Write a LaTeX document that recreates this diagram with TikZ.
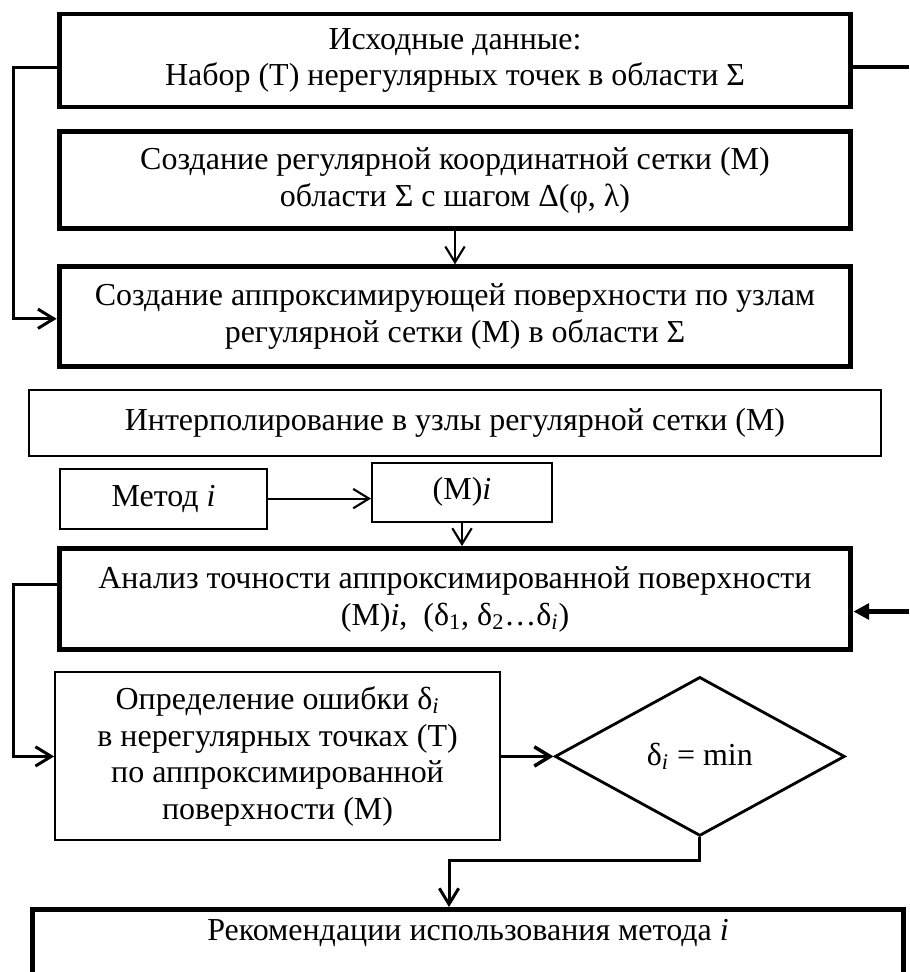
\documentclass[tikz,border=0pt]{standalone}
\usepackage{fontspec}
\setmainfont{Liberation Serif}
\usetikzlibrary{shapes.geometric, arrows.meta, positioning}

\begin{document}
\begin{tikzpicture}[
    x=0.02cm, y=-0.02cm,
    every node/.style={font=\fontsize{18.2}{21}\selectfont},
    box/.style={rectangle, draw, line width=2.8pt, minimum width=15.84cm, minimum height=1.98cm, align=center, inner sep=0pt},
    thinbox/.style={rectangle, draw, line width=1.1pt, align=center, inner sep=0pt},
    cond/.style={diamond, draw, line width=1.6pt, aspect=1.8, inner sep=0pt, minimum width=5.8cm, minimum height=3.18cm},
    arrow/.style={-{Straight Barb[length=9pt, width=11pt]}, line width=1.7pt},
    thinarrow/.style={arrow, line width=1.2pt},
    link/.style={line width=2.8pt}
]
\useasboundingbox (0,0) rectangle (909,972);
\clip (0,0) rectangle (909,972);

\coordinate (rgt) at (909,0);
\coordinate (turn) at (449,860);

\node[box, minimum height=1.86cm] (src) at (455,60.5) {Исходные данные:\\Набор (Т) нерегулярных точек в области Σ};
\node[box, minimum height=1.94cm, below=0.4cm of src] (grid) {Создание регулярной координатной сетки (М)\\области Σ с шагом Δ(φ, λ)};
\node[box, minimum height=2cm, below=0.66cm of grid] (surf) {Создание аппроксимирующей поверхности по узлам\\регулярной сетки (М) в области Σ};
\node[thinbox, minimum width=17.06cm, minimum height=1.32cm, below=0.39cm of surf] (interp) {Интерполирование в узлы регулярной сетки (М)};

\node[thinbox, minimum width=3.6cm, minimum height=1.18cm, below=0.1cm of interp, xshift=0.14cm] (mi) {(М)\textit{i}};
\node[thinbox, minimum width=4.14cm, minimum height=1.2cm, left=2.06cm of mi, yshift=-0.13cm] (method) {Метод \textit{i}};

\node[box, minimum height=2.02cm, below=0.47cm of mi, xshift=-0.14cm] (anal) {Анализ точности аппроксимированной поверхности\\(М)\textit{i},\ \ (δ\textsubscript{1}, δ\textsubscript{2}…δ\textsubscript{\textit{i}})};

\node[thinbox, minimum width=8.9cm, minimum height=3.36cm, below right=0.39cm and -0.05cm of anal.south west] (err) {Определение ошибки δ\textsubscript{\textit{i}}\\в нерегулярных точках (Т)\\по аппроксимированной\\поверхности (М)};
\node[cond, right=1.05cm of err] (dec) {δ\textsubscript{\textit{i}} = min};

\node[box, minimum width=17.44cm, inner ysep=0.2cm, text depth=2cm, anchor=north] (rec) at (468,907) {Рекомендации использования метода \textit{i}};

% feedback lines
\draw[arrow] ([yshift=-0.15cm]src.west) -- ++(-43,0) |- ([yshift=-0.04cm]surf.west);
\draw[link] ([yshift=-0.13cm]src.east) -- ([yshift=-0.13cm]src.east -| rgt);
\draw[thinarrow] (grid) -- (surf);
\draw[thinarrow] (method.east) -- (method.east -| mi.west);
\draw[thinarrow] (mi.south) -- (mi.south |- anal.north);
\draw[arrow] ([yshift=0.29cm]anal.west) -- ++(-43,0) |- (err.west);
\draw[link, -{Triangle[length=9pt, width=9pt]}] ([yshift=-0.25cm]anal.east -| rgt) -- ([yshift=-0.25cm]anal.east);
\draw[arrow, line width=2pt] (err) -- (dec);
\draw[arrow] (dec.south) |- (turn) -- (turn |- rec.north);
\end{tikzpicture}
\end{document}
